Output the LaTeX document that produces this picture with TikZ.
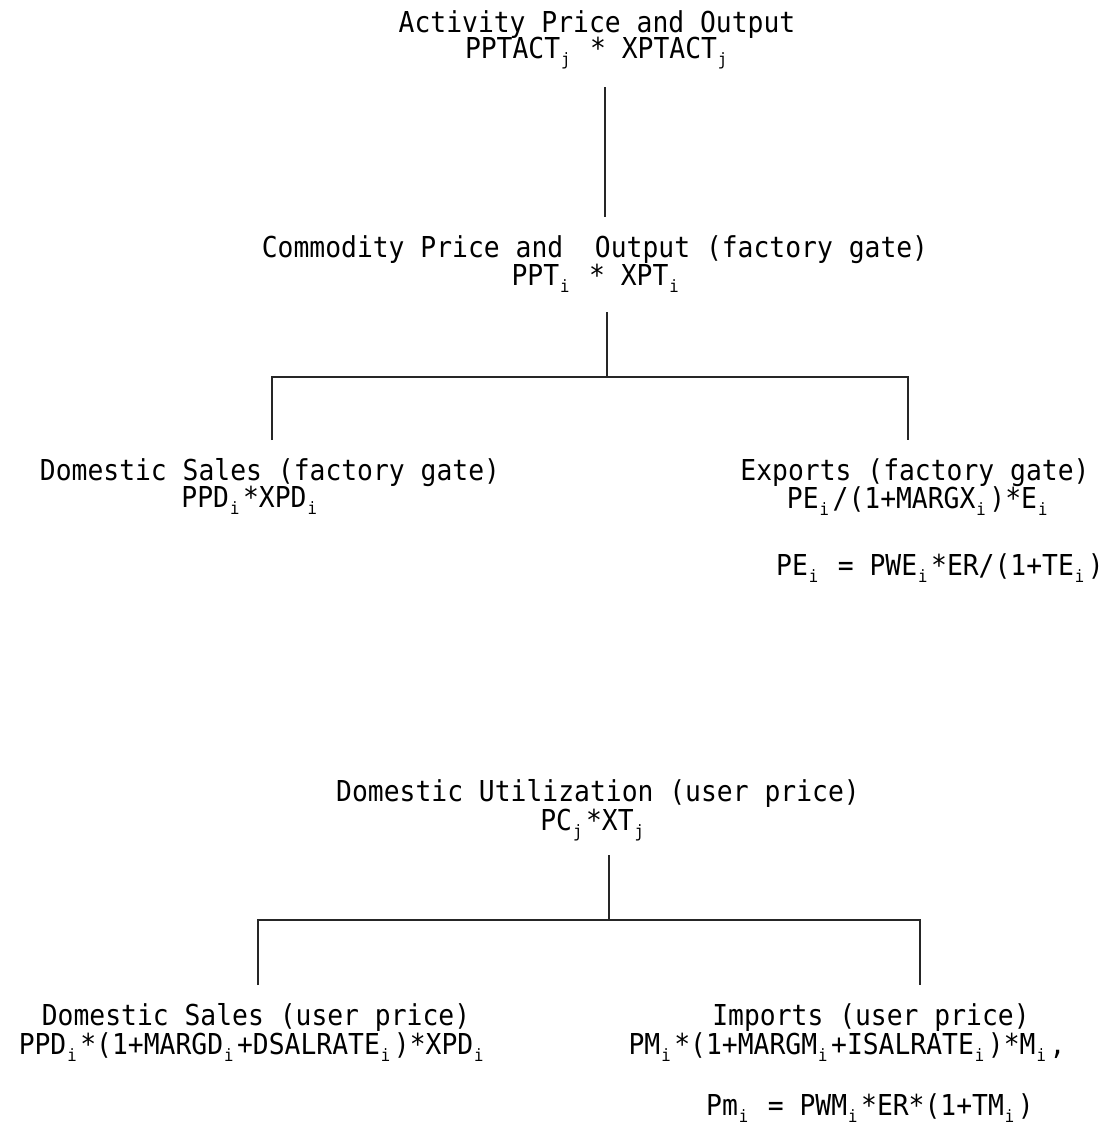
\documentclass[tikz,border=0pt]{standalone}
\usepackage{fontspec}
\newfontfamily\lettergothic[FakeStretch=0.915]{DejaVu Sans Mono}
\newcommand{\lsub}[1]{\makebox[14pt][l]{\hspace{1pt}\raisebox{-0.45ex}{\fontsize{17}{17}\selectfont #1}}}
\tikzset{
 lbl/.style={font=\lettergothic\fontsize{28.8}{28}\selectfont, inner sep=0pt, anchor=base},
 tie/.style={line width=1.5pt, black!85}
}
\begin{document}
\begin{tikzpicture}[x=1pt,y=-1pt]
 \useasboundingbox (0,0) rectangle (1110,1128);
 % activity level
 \node[lbl] (act) at (597,32) {Activity Price and Output};
 \node[lbl] (actf) at (598,58) {PPTACT\lsub{j} * XPTACT\lsub{j}};
 % commodity level
 \node[lbl] (com) at (595,257) {Commodity Price and\ \ Output (factory gate)};
 \node[lbl] (comf) at (597,285) {PPT\lsub{i} * XPT\lsub{i}};
 \node[lbl] (dsf) at (270,480) {Domestic Sales (factory gate)};
 \node[lbl] (dsff) at (251,507) {PPD\lsub{i}*XPD\lsub{i}};
 \node[lbl] (exp) at (915,480) {Exports (factory gate)};
 \node[lbl] (expf) at (919,508) {PE\lsub{i}/(1+MARGX\lsub{i})*E\lsub{i}};
 \node[lbl] (expe) at (940,575) {PE\lsub{i} = PWE\lsub{i}*ER/(1+TE\lsub{i})};
 % user level
 \node[lbl] (du) at (598,801) {Domestic Utilization (user price)};
 \node[lbl] (duf) at (594,830) {PC\lsub{j}*XT\lsub{j}};
 \node[lbl] (dsu) at (256,1025) {Domestic Sales (user price)};
 \node[lbl] (dsuf) at (253,1054) {PPD\lsub{i}*(1+MARGD\lsub{i}+DSALRATE\lsub{i})*XPD\lsub{i}};
 \node[lbl] (imp) at (871,1025) {Imports (user price)};
 \node[lbl] (impf) at (847,1054) {PM\lsub{i}*(1+MARGM\lsub{i}+ISALRATE\lsub{i})*M\lsub{i},};
 \node[lbl] (impe) at (870,1115) {Pm\lsub{i} = PWM\lsub{i}*ER*(1+TM\lsub{i})};
 % connectors
 \coordinate (a1) at (605,87);
 \coordinate (a2) at (605,217);
 \draw[tie] (a1) -- (a2);
 \coordinate (b1) at (607,312);
 \coordinate (b2) at (607,377);
 \coordinate (bl) at (272,440);
 \coordinate (br) at (908,440);
 \draw[tie] (b1) -- (b2);
 \draw[tie] (bl) |- (b2) -| (br);
 \coordinate (c1) at (609,855);
 \coordinate (c2) at (609,920);
 \coordinate (cl) at (258,985);
 \coordinate (cr) at (920,985);
 \draw[tie] (c1) -- (c2);
 \draw[tie] (cl) |- (c2) -| (cr);
\end{tikzpicture}
\end{document}
